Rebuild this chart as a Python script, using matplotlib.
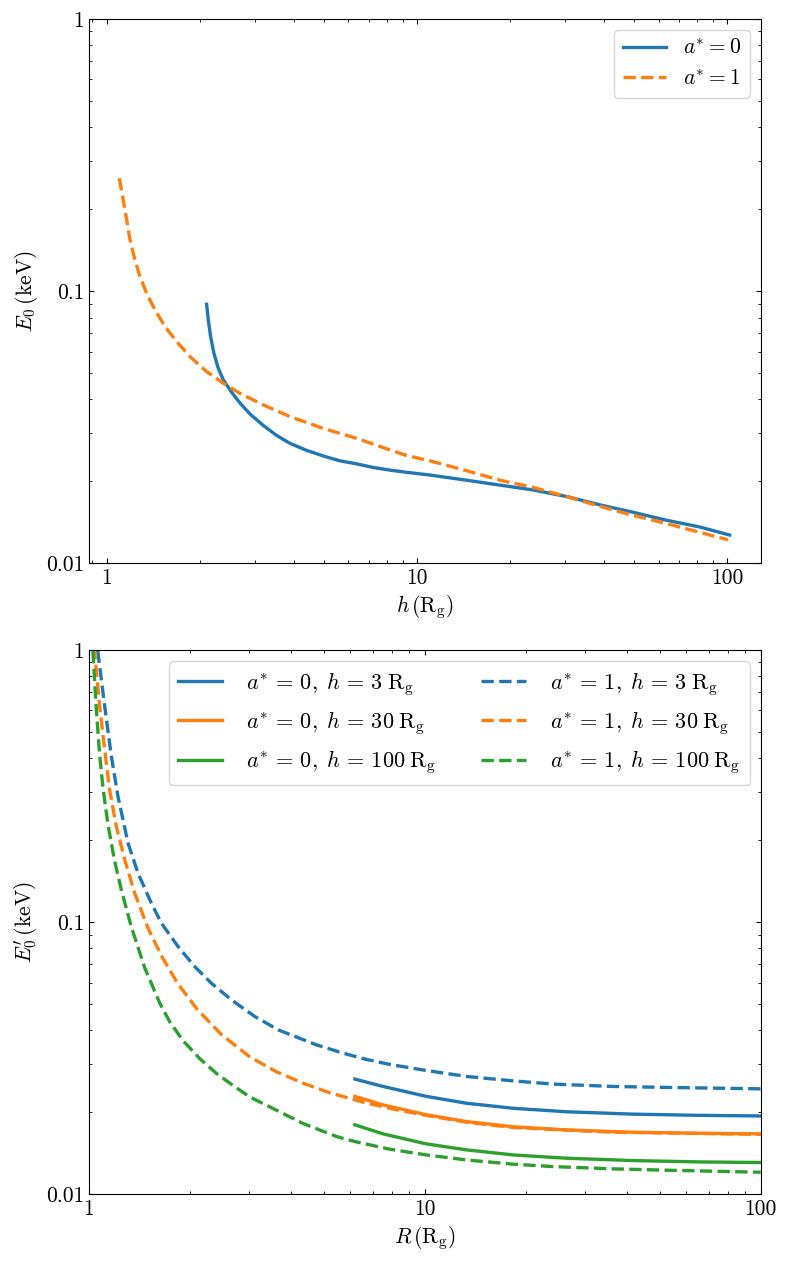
import matplotlib
matplotlib.use("Agg")
import matplotlib.pyplot as plt
from matplotlib.ticker import FuncFormatter

plt.rcParams['font.family'] = 'serif'
plt.rcParams['font.serif'] = ['cmr10', 'DejaVu Serif']
plt.rcParams['mathtext.fontset'] = 'cm'
plt.rcParams['axes.formatter.use_mathtext'] = True
plt.rcParams['font.size'] = 15.5

# top panel: E0 vs h
h_a0 = [2.099, 2.125, 2.162, 2.216, 2.288, 2.375, 2.527, 2.688, 2.894, 3.195, 3.527,
        3.894, 4.406, 4.986, 5.641, 6.383, 7.221, 8.17, 9.25, 11.0, 14.43, 23.66, 30.29,
        38.8, 49.7, 63.6, 81.4, 101.7]
E0_a0 = [0.0895, 0.0784, 0.0681, 0.0591, 0.0521, 0.0472, 0.0425, 0.0388, 0.0354, 0.0321,
         0.0295, 0.0276, 0.0260, 0.0248, 0.0238, 0.0232, 0.0225, 0.0220, 0.0216, 0.0211,
         0.0202, 0.0186, 0.0176, 0.0164, 0.0154, 0.0144, 0.0136, 0.0127]
h_a1 = [1.098, 1.131, 1.160, 1.189, 1.233, 1.280, 1.345, 1.431, 1.541, 1.680, 1.855,
        2.099, 2.375, 2.688, 3.195, 3.894, 4.986, 6.383, 8.17, 9.25, 11.0, 14.43, 18.5,
        23.66, 30.29, 38.8, 49.7, 63.6, 81.4, 100.4]
E0_a1 = [0.260, 0.2163, 0.1827, 0.1542, 0.1302, 0.1131, 0.0982, 0.0853, 0.0741, 0.0653,
         0.0575, 0.0506, 0.0459, 0.0421, 0.0382, 0.0346, 0.0313, 0.0288, 0.0261, 0.0249,
         0.0238, 0.0219, 0.0202, 0.0190, 0.0176, 0.0162, 0.0150, 0.0140, 0.0130, 0.0122]

# bottom panel: E0' vs R
R_a0 = [6.19, 7.51, 10.1, 13.31, 18.33, 26.4, 41.7, 65.9, 100]
E0p_a0_h3 = [0.0265, 0.0249, 0.0229, 0.0216, 0.0207, 0.0201, 0.0197, 0.0195, 0.0194]
E0p_a0_h30 = [0.0229, 0.0213, 0.0196, 0.0185, 0.0177, 0.01724, 0.0169, 0.01676, 0.01667]
E0p_a0_h100 = [0.0180, 0.01667, 0.01532, 0.01456, 0.01395, 0.01357, 0.0133, 0.01315, 0.01308]

R_a1_h3 = [1.0, 1.064, 1.114, 1.166, 1.220, 1.307, 1.400, 1.534, 1.643, 1.842, 2.065,
           2.315, 2.656, 3.116, 3.657, 4.758, 5.71, 6.70, 7.87, 10.1, 13.31, 18.33, 24.12,
           36.4, 52.5, 100]
E0p_a1_h3 = [1.8, 0.972, 0.619, 0.406, 0.289, 0.195, 0.151, 0.1173, 0.0991, 0.0813,
             0.0686, 0.0596, 0.0518, 0.0450, 0.0402, 0.0354, 0.0330, 0.0313, 0.0300,
             0.0285, 0.0271, 0.0261, 0.0254, 0.0249, 0.0247, 0.0244]
R_a1_h30 = [1.0, 1.040, 1.076, 1.114, 1.152, 1.206, 1.278, 1.368, 1.499, 1.65, 1.84,
            2.10, 2.48, 3.01, 3.615, 4.34, 5.21, 6.55, 8.0, 10.1, 13.3, 18.3, 24.1, 36.4,
            52.5, 100]
E0p_a1_h30 = [1.6, 0.972, 0.619, 0.429, 0.306, 0.2244, 0.1692, 0.1277, 0.095, 0.0745,
              0.0593, 0.0478, 0.0386, 0.0320, 0.0282, 0.0256, 0.0236, 0.0218, 0.0206,
              0.0195, 0.0184, 0.0176, 0.0173, 0.0169, 0.0168, 0.0166]
R_a1_h100 = [1.0, 1.028, 1.052, 1.076, 1.101, 1.139, 1.193, 1.249, 1.337, 1.465, 1.624,
             1.740, 1.905, 2.137, 2.396, 2.685, 3.01, 4.34, 5.46, 6.19, 7.87, 10.1, 13.31,
             18.33, 24.12, 36.4, 52.5, 100]
E0p_a1_h100 = [1.8, 0.972, 0.60, 0.41, 0.31, 0.228, 0.167, 0.131, 0.096, 0.068, 0.0504,
               0.0430, 0.0367, 0.0315, 0.0278, 0.0251, 0.0228, 0.0182, 0.0163, 0.01562,
               0.01464, 0.01395, 0.01337, 0.0129, 0.01264, 0.0124, 0.01226, 0.01205]

lw = 2.4
fmt = FuncFormatter(lambda v, pos: '%g' % v)
nofmt = FuncFormatter(lambda v, pos: '')


def lab(a, h):
    return r'$a^{*}\,=\,%d,\;h\,=\,%d\;\mathrm{R}_\mathrm{g}$' % (a, h)


fig = plt.figure(figsize=(7.89, 12.65), dpi=100)
ax1 = fig.add_axes([0.1128, 0.5547, 0.8513, 0.4303])
ax2 = fig.add_axes([0.1128, 0.0559, 0.8513, 0.4303])

ax1.plot(h_a0, E0_a0, color='C0', lw=lw, label=r'$a^{*}=0$')
ax1.plot(h_a1, E0_a1, color='C1', lw=lw, ls='--', label=r'$a^{*}=1$')
ax1.set_xscale('log')
ax1.set_yscale('log')
ax1.set_xlim(0.877, 128)
ax1.set_ylim(0.01, 1)
ax1.set_xlabel(r'$h\,(\mathrm{R}_\mathrm{g})$')
ax1.set_ylabel(r'$E_0\,(\mathrm{keV})$')
ax1.legend(loc='upper right')

ax2.plot(R_a0, E0p_a0_h3, color='C0', lw=lw, label=lab(0, 3))
ax2.plot(R_a0, E0p_a0_h30, color='C1', lw=lw, label=lab(0, 30))
ax2.plot(R_a0, E0p_a0_h100, color='C2', lw=lw, label=lab(0, 100))
ax2.plot(R_a1_h3, E0p_a1_h3, color='C0', lw=lw, ls='--', label=lab(1, 3))
ax2.plot(R_a1_h30, E0p_a1_h30, color='C1', lw=lw, ls='--', label=lab(1, 30))
ax2.plot(R_a1_h100, E0p_a1_h100, color='C2', lw=lw, ls='--', label=lab(1, 100))
ax2.set_xscale('log')
ax2.set_yscale('log')
ax2.set_xlim(1, 100)
ax2.set_ylim(0.01, 1)
ax2.set_xlabel(r'$R\,(\mathrm{R}_\mathrm{g})$')
ax2.set_ylabel(r"$E_0'\,(\mathrm{keV})$")
ax2.legend(loc='upper right', ncol=2, fontsize=16, handletextpad=1.1, columnspacing=2.0)

for ax in (ax1, ax2):
    ax.tick_params(which='both', direction='in', top=True, right=True)
    ax.xaxis.set_major_formatter(fmt)
    ax.yaxis.set_major_formatter(fmt)
    ax.xaxis.set_minor_formatter(nofmt)
    ax.yaxis.set_minor_formatter(nofmt)

fig.savefig('out.png', dpi=100)
